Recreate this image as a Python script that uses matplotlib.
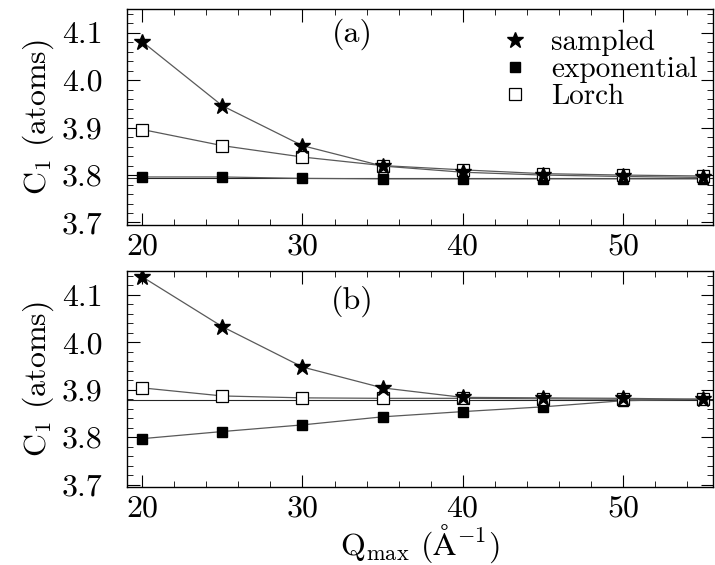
import matplotlib
matplotlib.use("Agg")
import matplotlib.pyplot as plt
from matplotlib.ticker import MultipleLocator, FormatStrFormatter

plt.rcParams['font.family'] = ['cmr10', 'DejaVu Serif']
plt.rcParams['mathtext.fontset'] = 'cm'
plt.rcParams['axes.formatter.use_mathtext'] = True

qmax = [20, 25, 30, 35, 40, 45, 50, 55]

# panel (a)
sampled_a = [4.081, 3.946, 3.862, 3.819, 3.806, 3.800, 3.797, 3.795]
expo_a = [3.796, 3.796, 3.793, 3.792, 3.792, 3.792, 3.792, 3.792]
lorch_a = [3.896, 3.862, 3.838, 3.820, 3.811, 3.803, 3.800, 3.798]
ref_a = 3.793

# panel (b)
sampled_b = [4.138, 4.033, 3.948, 3.904, 3.884, 3.883, 3.882, 3.880]
expo_b = [3.797, 3.812, 3.826, 3.843, 3.854, 3.864, 3.877, 3.880]
lorch_b = [3.904, 3.887, 3.883, 3.882, 3.882, 3.881, 3.880, 3.880]
ref_b = 3.878

fs = 23

fig = plt.figure(figsize=(7.15, 5.65), dpi=100)
ax_a = fig.add_axes([0.178, 0.602, 0.819, 0.382])
ax_b = fig.add_axes([0.178, 0.138, 0.819, 0.382])

lc = '0.35'
panels = [(ax_a, sampled_a, expo_a, lorch_a, ref_a, '(a)', 0.885),
          (ax_b, sampled_b, expo_b, lorch_b, ref_b, '(b)', 0.86)]
for ax, s, e, l, ref, tag, ty in panels:
    ax.axhline(ref, color='0.15', lw=0.8, zorder=1)
    ax.plot(qmax, e, color=lc, lw=0.9, marker='s', ms=7, mfc='black', mec='black',
            label='exponential', zorder=3)
    ax.plot(qmax, l, color=lc, lw=0.9, marker='s', ms=9, mfc='white', mec='black',
            mew=0.9, label='Lorch', zorder=4)
    ax.plot(qmax, s, color=lc, lw=0.9, marker='*', ms=12, mfc='black', mec='black',
            label='sampled', zorder=5)
    ax.set_xlim(19.06, 55.62)
    ax.set_ylim(3.695, 4.15)
    ax.xaxis.set_major_locator(MultipleLocator(10))
    ax.xaxis.set_minor_locator(MultipleLocator(2))
    ax.yaxis.set_major_locator(MultipleLocator(0.1))
    ax.yaxis.set_minor_locator(MultipleLocator(0.02))
    ax.yaxis.set_major_formatter(FormatStrFormatter('%.1f'))
    ax.tick_params(which='both', direction='in', top=True, right=True, labelsize=fs)
    ax.tick_params(which='major', length=9, width=0.8)
    ax.tick_params(which='minor', length=4, width=0.6)
    ax.tick_params(axis='x', which='major', pad=6)
    ax.tick_params(axis='y', which='major', pad=18)
    ax.set_ylabel(r'C$_1$ (atoms)', fontsize=fs, labelpad=4)
    for sp in ax.spines.values():
        sp.set_linewidth(1.0)
    ax.text(0.385, ty, tag, transform=ax.transAxes, fontsize=fs, ha='center', va='center')

handles, labels = ax_a.get_legend_handles_labels()
order = [2, 0, 1]
ax_a.legend([handles[i] for i in order], [labels[i] for i in order],
            loc='upper left', bbox_to_anchor=(0.647, 0.905), frameon=False, fontsize=21,
            handlelength=0.6, handletextpad=0.95, labelspacing=0.02, borderaxespad=0.0,
            borderpad=0.0)
leg = ax_a.get_legend()
for h in leg.legend_handles:
    h.set_linestyle('none')

ax_b.set_xlabel(r'Q$_{\rm max}$ ($\rm\AA^{-1}$)', fontsize=fs, labelpad=0)

fig.savefig('out.png', dpi=100)
